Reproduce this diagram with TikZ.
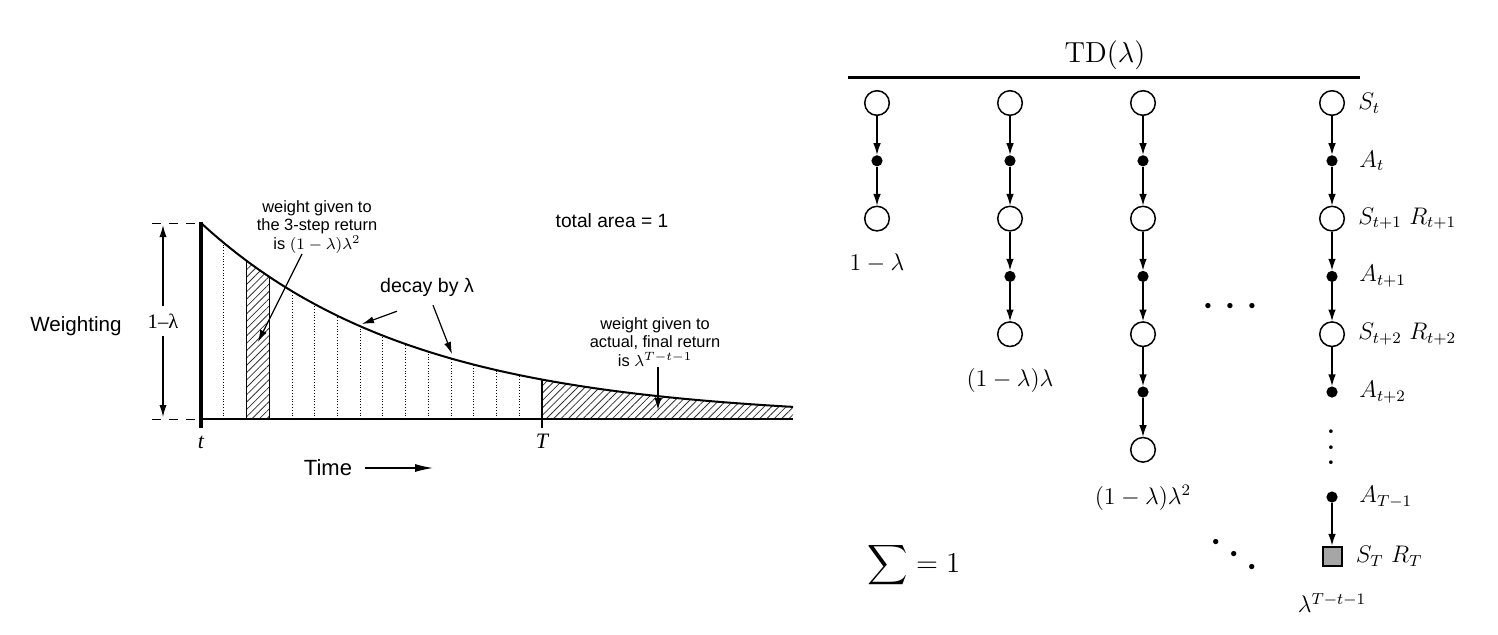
\documentclass[tikz,border=0pt]{standalone}
\usepackage{amsmath,amssymb}
\usepackage{fontspec}
\usepackage{tikz}
\usetikzlibrary{arrows.meta,calc,positioning,patterns.meta}
\newfontfamily\arialfont{Liberation Sans}
\newfontfamily\timesfont{Liberation Serif}

\begin{document}
\begin{tikzpicture}[x=0.5pt,y=-0.5pt,>={Latex[length=6pt,width=3.6pt]},node distance=28.9pt,on grid,
  declare function={wt(\t)=419-196*exp(-0.0047*(\t-201));}]
\tikzset{note/.style={font=\arialfont\fontsize{8.2}{9.3}\selectfont,align=center,inner sep=0pt}}
\tikzset{hatch/.style={pattern={Lines[angle=45,distance=2.6pt,line width=0.4pt]},pattern color=black!80}}
\tikzset{state/.style={draw,circle,line width=0.75pt,minimum size=12.3pt,inner sep=0pt}}
\tikzset{action/.style={fill,circle,minimum size=5.6pt,inner sep=0pt}}
\tikzset{final/.style={draw,line width=1pt,fill=black!35,minimum size=9.5pt,inner sep=0pt}}
\tikzset{edge/.style={-{Latex[length=5.8pt,width=3.8pt]},line width=0.6pt}}
\tikzset{lbl/.style={font=\fontsize{11.5}{14}\selectfont,inner sep=0pt}}
\useasboundingbox (0,0) rectangle (1498,634);
% weighting of the n-step returns
\foreach \i in {1,...,14}
  \draw[densely dotted,line width=0.4pt] ({201+22.73*\i},419) -- ({201+22.73*\i},{wt(201+22.73*\i)});
\fill[hatch] (246.5,419) -- plot[domain=246.5:269.2,samples=6] (\x,{wt(\x)}) -- (269.2,419) -- cycle;
\draw[line width=0.4pt] (246.5,419) -- (246.5,{wt(246.5)}) (269.2,419) -- (269.2,{wt(269.2)});
\fill[hatch] (542,419) -- plot[domain=542:793,samples=40] (\x,{wt(\x)}) -- (793,419) -- cycle;
\draw[line width=1pt] plot[domain=201:793,samples=100] (\x,{wt(\x)});
\draw[line width=0.7pt] (201,419) -- (793,419);
\draw[line width=1.6pt] (201,222) -- (201,428);
\draw[line width=1pt] (542,{wt(542)}) -- (542,428);
\draw[dash pattern=on 4.5pt off 4pt,line width=0.5pt] (152,223) -- (199,223) (152,419) -- (199,419);
\coordinate (ytop) at (163,225);
\coordinate (ybot) at (163,417);
\draw[<->,line width=0.6pt] (ytop) -- node[fill=white,inner xsep=1pt,inner ysep=4pt,font=\timesfont\fontsize{10.3}{12}\selectfont] (onelam) {1–λ} (ybot);
\node[font=\arialfont\fontsize{10.3}{12}\selectfont] (weighting) at (76,326) {Weighting};
\node[font=\timesfont\itshape\fontsize{11}{12}\selectfont] (tlab) at (201,442) {t};
\node[font=\timesfont\itshape\fontsize{11}{12}\selectfont] (Tlab) at (542,441) {T};
\node[font=\arialfont\fontsize{11}{13}\selectfont] (time) at (328,468) {Time};
\coordinate (timeend) at (433,468);
\draw[-{Latex[length=9pt,width=4pt]},line width=0.6pt] ([xshift=3pt]time.east) -- (timeend);
\node[note] (ret3) at (317,227) {weight given to\\the 3-step return\\is $(1-\lambda)\lambda^2$};
\coordinate (ret3tip) at (258,342);
\draw[->,line width=0.6pt] ([xshift=-7.5pt]ret3.south) -- (ret3tip);
\node[font=\arialfont\fontsize{9.8}{12}\selectfont] (decay) at (427,287) {decay by λ};
\coordinate (dtip1) at (362,324);
\coordinate (dtip2) at (452,354);
\draw[->,line width=0.6pt] ([xshift=-15pt,yshift=-4pt]decay.south) -- (dtip1);
\draw[->,line width=0.6pt] ([xshift=3pt,yshift=-1pt]decay.south) -- (dtip2);
\node[font=\arialfont\fontsize{9.6}{12}\selectfont] (area) at (612,221) {total area = 1};
\node[note] (retT) at (655,342) {weight given to\\actual, final return\\is $\lambda^{T-t-1}$};
\coordinate (retTtip) at (658,410);
\draw[->,line width=0.6pt] ([xshift=1.5pt]retT.south) -- (retTtip);
% backup diagrams of TD(lambda)
\node[font=\fontsize{14.5}{17}\selectfont] (td) at (1105,55) {TD($\lambda$)};
\draw[line width=1.5pt] (848,77) -- (1360,77);
\node[state] (c1s0) at (877,103) {};
\node[action,below=of c1s0] (c1a0) {};
\node[state,below=of c1a0] (c1s1) {};
\node[lbl,below=22.5pt of c1s1] (w1) {$1-\lambda$};
\node[state] (c2s0) at (1010,103) {};
\node[action,below=of c2s0] (c2a0) {};
\node[state,below=of c2a0] (c2s1) {};
\node[action,below=of c2s1] (c2a1) {};
\node[state,below=of c2a1] (c2s2) {};
\node[lbl,below=23pt of c2s2] (w2) {$(1-\lambda)\lambda$};
\node[state] (c3s0) at (1143,103) {};
\node[action,below=of c3s0] (c3a0) {};
\node[state,below=of c3a0] (c3s1) {};
\node[action,below=of c3s1] (c3a1) {};
\node[state,below=of c3a1] (c3s2) {};
\node[action,below=of c3s2] (c3a2) {};
\node[state,below=of c3a2] (c3s3) {};
\node[lbl,below=24pt of c3s3] (w3) {$(1-\lambda)\lambda^2$};
\node[state,label={[lbl,label distance=6.5pt]right:$S_t$}] (st) at (1332,103) {};
\node[action,below=of st,label={[lbl,label distance=10.5pt]right:$A_t$}] (at) {};
\node[state,below=of at,label={[lbl,label distance=6.5pt]right:$S_{t+1}$ $R_{t+1}$}] (st1) {};
\node[action,below=of st1,label={[lbl,label distance=10.5pt]right:$A_{t+1}$}] (at1) {};
\node[state,below=of at1,label={[lbl,label distance=6.5pt]right:$S_{t+2}$ $R_{t+2}$}] (st2) {};
\node[action,below=of st2,label={[lbl,label distance=10.5pt]right:$A_{t+2}$}] (at2) {};
\node[action,below=52.5pt of at2,label={[lbl,label distance=10.5pt]right:$A_{T-1}$}] (atm) {};
\node[final,below=29.5pt of atm,label={[lbl,label distance=6.5pt]right:$S_T$ $R_T$}] (sT) {};
\node[lbl,below=23.5pt of sT] (wT) {$\lambda^{T-t-1}$};
\node[rotate=90,inner sep=0pt,font=\fontsize{17}{20}\selectfont] (vdots) at ($(at2)!0.5!(atm)$) {$\cdots$};
\node[inner sep=0pt,font=\fontsize{24.7}{28}\selectfont] (hdots) at (1235,307) {$\cdots$};
\node[rotate=-34,inner sep=0pt,font=\fontsize{24}{28}\selectfont] (ddots) at (1237,558) {$\cdots$};
\node[font=\fontsize{14}{17}\selectfont] (sum) at (914,565) {$\displaystyle\sum=1$};
\draw[edge] (c1s0) -- (c1a0);
\draw[edge] (c1a0) -- (c1s1);
\draw[edge] (c2s0) -- (c2a0);
\draw[edge] (c2a0) -- (c2s1);
\draw[edge] (c2s1) -- (c2a1);
\draw[edge] (c2a1) -- (c2s2);
\draw[edge] (c3s0) -- (c3a0);
\draw[edge] (c3a0) -- (c3s1);
\draw[edge] (c3s1) -- (c3a1);
\draw[edge] (c3a1) -- (c3s2);
\draw[edge] (c3s2) -- (c3a2);
\draw[edge] (c3a2) -- (c3s3);
\draw[edge] (st) -- (at);
\draw[edge] (at) -- (st1);
\draw[edge] (st1) -- (at1);
\draw[edge] (at1) -- (st2);
\draw[edge] (st2) -- (at2);
\draw[edge] (atm) -- (sT);
\end{tikzpicture}
\end{document}
